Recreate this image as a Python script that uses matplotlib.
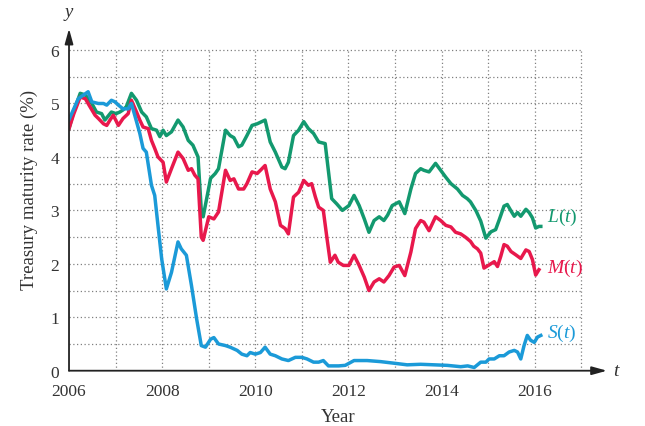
import matplotlib
matplotlib.use('Agg')
from matplotlib import pyplot as plt
import numpy as np

plt.rcParams['font.family'] = ['Liberation Serif', 'DejaVu Serif']
plt.rcParams['mathtext.fontset'] = 'custom'
plt.rcParams['mathtext.rm'] = 'Liberation Serif'
plt.rcParams['mathtext.it'] = 'Liberation Serif:italic'

# long-term rate L(t)
L_year = [2006.00, 2006.10, 2006.24, 2006.35, 2006.49, 2006.59, 2006.70, 2006.77, 2006.91, 2007.01,
          2007.09, 2007.16, 2007.23, 2007.34, 2007.45, 2007.56, 2007.66, 2007.77, 2007.88, 2007.95,
          2008.02, 2008.09, 2008.20, 2008.34, 2008.45, 2008.56, 2008.66, 2008.77, 2008.84, 2008.88,
          2009.04, 2009.14, 2009.21, 2009.36, 2009.46, 2009.54, 2009.64, 2009.71, 2009.82, 2009.93,
          2010.04, 2010.21, 2010.32, 2010.43, 2010.57, 2010.64, 2010.71, 2010.82, 2010.93, 2011.04,
          2011.14, 2011.25, 2011.36, 2011.50, 2011.64, 2011.75, 2011.87, 2012.01, 2012.12, 2012.23,
          2012.34, 2012.44, 2012.55, 2012.66, 2012.76, 2012.84, 2012.94, 2013.09, 2013.21, 2013.34,
          2013.44, 2013.55, 2013.62, 2013.73, 2013.87, 2013.98, 2014.09, 2014.20, 2014.34, 2014.45,
          2014.55, 2014.62, 2014.74, 2014.84, 2014.95, 2015.06, 2015.16, 2015.24, 2015.34, 2015.41,
          2015.49, 2015.56, 2015.63, 2015.70, 2015.81, 2015.88, 2015.95, 2016.02, 2016.09, 2016.13]
L_rate = [4.53, 4.85, 5.19, 5.16, 5.00, 4.84, 4.81, 4.69, 4.84, 4.81,
          4.84, 4.88, 4.94, 5.19, 5.06, 4.84, 4.75, 4.53, 4.50, 4.38,
          4.50, 4.40, 4.47, 4.69, 4.56, 4.31, 4.22, 4.00, 3.00, 2.88,
          3.60, 3.69, 3.78, 4.50, 4.40, 4.36, 4.19, 4.22, 4.40, 4.59,
          4.62, 4.69, 4.28, 4.09, 3.81, 3.78, 3.90, 4.40, 4.50, 4.66,
          4.53, 4.44, 4.28, 4.25, 3.22, 3.12, 3.00, 3.09, 3.28, 3.09,
          2.84, 2.59, 2.81, 2.88, 2.81, 2.91, 3.09, 3.16, 2.94, 3.40,
          3.69, 3.78, 3.75, 3.72, 3.88, 3.75, 3.62, 3.50, 3.40, 3.28,
          3.22, 3.16, 2.99, 2.80, 2.48, 2.60, 2.64, 2.83, 3.08, 3.11,
          2.99, 2.89, 2.96, 2.89, 3.02, 2.96, 2.86, 2.67, 2.70, 2.70]

# medium-term rate M(t)
M_year = [2006.00, 2006.10, 2006.24, 2006.35, 2006.45, 2006.56, 2006.63, 2006.74, 2006.81, 2006.88,
          2006.95, 2007.06, 2007.16, 2007.27, 2007.34, 2007.45, 2007.52, 2007.59, 2007.70, 2007.77,
          2007.84, 2007.91, 2008.02, 2008.09, 2008.20, 2008.34, 2008.45, 2008.56, 2008.63, 2008.70,
          2008.77, 2008.84, 2008.88, 2009.00, 2009.11, 2009.21, 2009.36, 2009.46, 2009.54, 2009.64,
          2009.75, 2009.82, 2009.93, 2010.04, 2010.11, 2010.21, 2010.32, 2010.43, 2010.54, 2010.64,
          2010.71, 2010.82, 2010.93, 2011.04, 2011.14, 2011.21, 2011.29, 2011.36, 2011.46, 2011.54,
          2011.61, 2011.71, 2011.78, 2011.89, 2012.01, 2012.12, 2012.23, 2012.34, 2012.44, 2012.55,
          2012.66, 2012.76, 2012.87, 2012.98, 2013.09, 2013.21, 2013.34, 2013.44, 2013.55, 2013.62,
          2013.73, 2013.87, 2013.98, 2014.09, 2014.20, 2014.30, 2014.41, 2014.51, 2014.62, 2014.69,
          2014.77, 2014.84, 2014.91, 2015.02, 2015.13, 2015.20, 2015.27, 2015.34, 2015.41, 2015.49,
          2015.59, 2015.70, 2015.81, 2015.88, 2015.95, 2016.02, 2016.09]
M_rate = [4.53, 4.80, 5.12, 5.09, 4.94, 4.78, 4.72, 4.62, 4.59, 4.69,
          4.78, 4.59, 4.72, 4.81, 5.06, 4.84, 4.69, 4.56, 4.53, 4.31,
          4.16, 4.00, 3.90, 3.53, 3.78, 4.09, 3.97, 3.75, 3.78, 3.66,
          3.59, 2.50, 2.44, 2.88, 2.84, 2.97, 3.75, 3.56, 3.59, 3.40,
          3.40, 3.50, 3.72, 3.69, 3.75, 3.84, 3.40, 3.16, 2.72, 2.66,
          2.56, 3.25, 3.34, 3.56, 3.47, 3.50, 3.25, 3.06, 3.00, 2.47,
          2.03, 2.16, 2.03, 1.97, 1.97, 2.16, 1.97, 1.75, 1.50, 1.66,
          1.72, 1.66, 1.78, 1.94, 1.97, 1.78, 2.22, 2.66, 2.81, 2.78,
          2.62, 2.88, 2.81, 2.72, 2.69, 2.59, 2.56, 2.50, 2.42, 2.33,
          2.28, 2.20, 1.92, 1.98, 2.04, 1.95, 2.14, 2.36, 2.33, 2.23,
          2.17, 2.10, 2.26, 2.23, 2.08, 1.79, 1.89]

# short-term rate S(t)
S_year = [2006.00, 2006.20, 2006.41, 2006.49, 2006.63, 2006.74, 2006.81, 2006.91, 2006.99, 2007.06,
          2007.16, 2007.27, 2007.34, 2007.45, 2007.52, 2007.59, 2007.66, 2007.77, 2007.84, 2007.91,
          2007.99, 2008.09, 2008.20, 2008.34, 2008.41, 2008.52, 2008.63, 2008.74, 2008.84, 2008.93,
          2009.04, 2009.11, 2009.21, 2009.36, 2009.46, 2009.61, 2009.71, 2009.82, 2009.89, 2010.00,
          2010.11, 2010.21, 2010.32, 2010.43, 2010.57, 2010.71, 2010.86, 2011.00, 2011.11, 2011.25,
          2011.36, 2011.46, 2011.57, 2011.79, 2011.93, 2012.12, 2012.40, 2012.69, 2012.98, 2013.26,
          2013.55, 2013.84, 2014.12, 2014.41, 2014.56, 2014.70, 2014.84, 2014.95, 2015.02, 2015.13,
          2015.24, 2015.34, 2015.45, 2015.56, 2015.63, 2015.70, 2015.77, 2015.84, 2015.91, 2015.99,
          2016.06, 2016.13]
S_rate = [4.70, 5.09, 5.22, 5.03, 5.00, 5.00, 4.97, 5.06, 5.03, 4.97,
          4.90, 4.90, 5.00, 4.66, 4.44, 4.16, 4.09, 3.47, 3.28, 2.72,
          2.09, 1.53, 1.84, 2.41, 2.28, 2.16, 1.59, 0.97, 0.47, 0.44,
          0.59, 0.62, 0.50, 0.47, 0.44, 0.38, 0.31, 0.28, 0.34, 0.31,
          0.34, 0.44, 0.31, 0.28, 0.22, 0.19, 0.25, 0.25, 0.22, 0.16,
          0.16, 0.19, 0.09, 0.09, 0.10, 0.19, 0.19, 0.17, 0.14, 0.11,
          0.12, 0.11, 0.10, 0.075, 0.09, 0.06, 0.16, 0.16, 0.22, 0.22,
          0.28, 0.28, 0.35, 0.38, 0.35, 0.22, 0.47, 0.66, 0.57, 0.53,
          0.63, 0.66]

series = [(L_year, L_rate, '#13996f', r'$L(t)$', 2.89),
          (M_year, M_rate, '#e8184c', r'$M(t)$', 1.94),
          (S_year, S_rate, '#1b9ad8', r'$S(t)$', 0.72)]

fig = plt.figure(figsize=(6.45, 4.27), dpi=100)
ax = fig.add_axes([0.107, 0.1295, 0.834, 0.801])
ax.set_xlim(2006, 2017.55)
ax.set_ylim(0, 6.4)

# dotted grid, only inside 2006-2017 x 0-6
for yr in range(2007, 2018):
    ax.plot([yr, yr], [0, 6], color='#808080', lw=0.9, ls=(0, (1, 2)), zorder=1)
for v in np.arange(0.5, 6.01, 0.5):
    ax.plot([2006, 2017], [v, v], color='#808080', lw=0.9, ls=(0, (1, 2)), zorder=1)

for yrs, vals, col, lab, ly in series:
    ax.plot(yrs, vals, color=col, lw=2.5, solid_joinstyle='round', zorder=3)
    ax.text(2016.26, ly, lab, color=col, fontsize=14, va='center', ha='left')

for s in ax.spines.values():
    s.set_visible(False)
ax.annotate('', xy=(1.0, 0), xytext=(0, 0), xycoords='axes fraction',
            arrowprops=dict(arrowstyle='-|>,head_length=0.9,head_width=0.25',
                            color='#222222', lw=1.3, shrinkA=0, shrinkB=0))
ax.annotate('', xy=(0, 1.0), xytext=(0, 0), xycoords='axes fraction',
            arrowprops=dict(arrowstyle='-|>,head_length=0.9,head_width=0.25',
                            color='#222222', lw=1.3, shrinkA=0, shrinkB=0))
ax.text(1.012, 0, 't', transform=ax.transAxes, fontsize=14, style='italic',
        va='center', ha='left', color='#333333')
ax.text(0, 1.05, 'y', transform=ax.transAxes, fontsize=13.5, style='italic',
        va='center', ha='center', color='#333333')

ax.set_xticks([2006, 2008, 2010, 2012, 2014, 2016])
ax.set_yticks(range(0, 7))
ax.tick_params(length=0, labelsize=12.5, colors='#333333')
ax.tick_params(axis='x', pad=9)
ax.tick_params(axis='y', pad=7)
ax.set_xlabel('Year', fontsize=13.5, color='#333333', labelpad=6)
ax.set_ylabel('Treasury maturity rate (%)', fontsize=13.5, color='#333333')
ax.yaxis.set_label_coords(-0.058, 0.53)

fig.savefig('out.png', dpi=100)
